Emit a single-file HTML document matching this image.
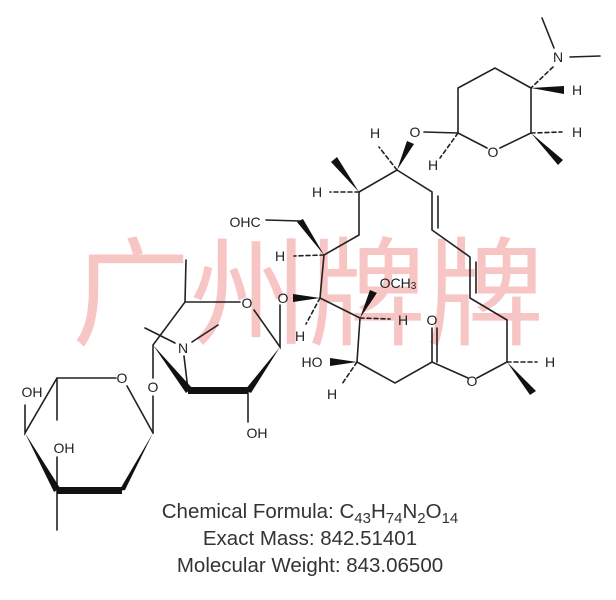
<!DOCTYPE html>
<html><head><meta charset="utf-8"><style>
html,body{margin:0;padding:0;background:#fff;width:616px;height:600px;overflow:hidden}
svg{display:block}
text{font-family:"Liberation Sans",Arial,sans-serif;fill:#222}
.a{font-size:14px;text-anchor:middle;dominant-baseline:central}
.wm{font-family:"Liberation Sans","Noto Sans CJK SC",sans-serif;font-size:118px;fill:#f5a0a0;opacity:.6}
.info{font-size:20.5px;fill:#333;text-anchor:middle}
</style></head><body>
<svg width="616" height="600" viewBox="0 0 616 600" xmlns="http://www.w3.org/2000/svg">
<text class="wm" x="72" y="336">广州牌牌</text>
<g stroke="#222" stroke-width="1.6" fill="none" stroke-linecap="round">
<line x1="542" y1="18" x2="554" y2="48"/>
<line x1="570" y1="57" x2="600" y2="56"/>
<line x1="553" y1="67" x2="531" y2="88" stroke-dasharray="4,3"/>
<polyline points="531,88 495,68 458,88 458,133 487,148"/>
<polyline points="500,148 531,133 531,88"/>
<line x1="531" y1="133" x2="562" y2="132" stroke-dasharray="4,3"/>
<line x1="424" y1="132" x2="458" y2="133"/>
<line x1="458" y1="133" x2="440" y2="158" stroke-dasharray="4,3"/>
<line x1="397" y1="170" x2="379" y2="147" stroke-dasharray="4,3"/>
<line x1="397" y1="170" x2="359" y2="192"/>
<line x1="359" y1="192" x2="330" y2="192" stroke-dasharray="4,3"/>
<polyline points="359,192 359,235 324,255 320,298 360,318 357,362 395,383 432,362 468,378"/>
<line x1="324" y1="255" x2="294" y2="256" stroke-dasharray="4,3"/>
<polyline points="300,221 266,220"/>
<line x1="320" y1="298" x2="306" y2="324" stroke-dasharray="4,3"/>
<line x1="360" y1="318" x2="390" y2="319" stroke-dasharray="4,3"/>
<line x1="357" y1="362" x2="342" y2="384" stroke-dasharray="4,3"/>
<line x1="432" y1="362" x2="432" y2="328"/>
<line x1="437" y1="362" x2="437" y2="328"/>
<polyline points="477,378 507,362 507,320 470,298 470,257 432,230 432,192 397,170"/>
<line x1="476" y1="293" x2="476" y2="262"/>
<line x1="438" y1="228" x2="438" y2="196"/>
<line x1="507" y1="362" x2="537" y2="362" stroke-dasharray="4,3"/>
<polyline points="240,302 185,302 153,345 153,378"/>
<line x1="185" y1="302" x2="186" y2="260"/>
<polyline points="254,310 280,347 280,305"/>
<line x1="248" y1="390" x2="248" y2="422"/>
<line x1="188" y1="390" x2="184" y2="356"/>
<line x1="145" y1="328" x2="175" y2="343"/>
<line x1="192" y1="342" x2="218" y2="325"/>
<line x1="153" y1="396" x2="153" y2="433"/>
<polyline points="116,378 57,378 25,433 25,405"/>
<line x1="57" y1="378" x2="57" y2="420"/>
<line x1="127" y1="386" x2="153" y2="433"/>
<line x1="57" y1="490" x2="57" y2="457"/>
<line x1="57" y1="490" x2="57" y2="530"/>
</g>
<g fill="#111">
<polygon points="531,88 564,86 564,94"/>
<polygon points="531,133 558,165 563,160"/>
<polygon points="397,170 407,141 414,144"/>
<polygon points="359,192 331,162 337,157"/>
<polygon points="324,255 297,222 303,219"/>
<polygon points="320,298 293,294 293,302"/>
<polygon points="360,318 370,290 377,293"/>
<polygon points="357,362 330,358 330,366"/>
<polygon points="507,362 530,395 536,391"/>
<polygon points="280,347 245,390 251,393"/>
<polygon points="248,387 248,394 188,394 188,387"/>
<polygon points="153,345 186,393 192,388"/>
<polygon points="153,433 119,491 125,490"/>
<polygon points="122,487 122,494 57,494 57,487"/>
<polygon points="25,433 54,492 60,488"/>
</g>
<g class="a">
<text x="558" y="57">N</text><text x="577" y="90">H</text><text x="577" y="132">H</text>
<text x="493" y="152">O</text><text x="415" y="132">O</text><text x="433" y="165">H</text>
<text x="375" y="133">H</text><text x="317" y="192">H</text>
<text x="245" y="222">OHC</text><text x="280" y="256">H</text>
<text x="283" y="298">O</text><text x="300" y="336">H</text>
<text x="398" y="283">OCH<tspan font-size="10" dy="3">3</tspan></text>
<text x="403" y="320">H</text><text x="312" y="362">HO</text><text x="332" y="394">H</text>
<text x="432" y="320">O</text><text x="472" y="381">O</text><text x="550" y="362">H</text>
<text x="247" y="303">O</text><text x="183" y="348">N</text><text x="257" y="433">OH</text>
<text x="153" y="387">O</text><text x="122" y="378">O</text>
<text x="32" y="392">OH</text><text x="64" y="448">OH</text>
</g>
<text class="info" x="310" y="518">Chemical Formula: C<tspan font-size="15" dy="5">43</tspan><tspan dy="-5">H</tspan><tspan font-size="15" dy="5">74</tspan><tspan dy="-5">N</tspan><tspan font-size="15" dy="5">2</tspan><tspan dy="-5">O</tspan><tspan font-size="15" dy="5">14</tspan></text>
<text class="info" x="310" y="545">Exact Mass: 842.51401</text>
<text class="info" x="310" y="572">Molecular Weight: 843.06500</text>
</svg>
</body></html>
